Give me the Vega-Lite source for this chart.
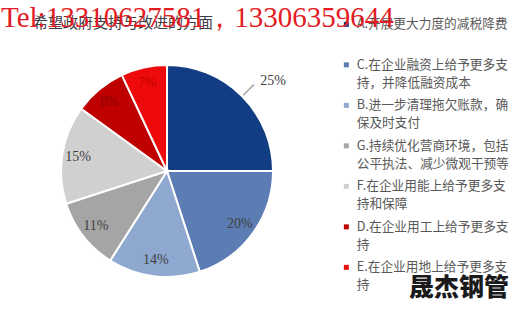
{
  "$schema": "https://vega.github.io/schema/vega-lite/v6.json",
  "width": 334,
  "height": 282,
  "autosize": {"type": "none"},
  "padding": {"left": 0, "top": 30, "right": 186, "bottom": 0},
  "background": "white",
  "title": {
    "text": "希望政府支持与改进的方面",
    "subtitle": "Tel:13310627581，13306359644",
    "anchor": "start",
    "frame": "group",
    "font": "Noto Sans CJK SC",
    "fontSize": 15,
    "fontWeight": "normal",
    "color": "#3c3c46",
    "subtitleFont": "Liberation Serif",
    "subtitleFontSize": 29,
    "subtitleColor": "#e31b23",
    "subtitlePadding": -27,
    "offset": 0,
    "dy": 27
  },
  "data": {
    "values": [
      {"item": "A.开展更大力度的减税降费", "share": 0.25, "rank": 1},
      {"item": "C.在企业融资上给予更多支持，并降低融资成本", "share": 0.20, "rank": 2},
      {"item": "B.进一步清理拖欠账款，确保及时支付", "share": 0.14, "rank": 3},
      {"item": "G.持续优化营商环境，包括公平执法、减少微观干预等", "share": 0.11, "rank": 4},
      {"item": "F.在企业用能上给予更多支持和保障", "share": 0.15, "rank": 5},
      {"item": "D.在企业用工上给予更多支持", "share": 0.08, "rank": 6},
      {"item": "E.在企业用地上给予更多支持", "share": 0.07, "rank": 7}
    ]
  },
  "encoding": {
    "theta": {"field": "share", "type": "quantitative", "stack": true},
    "order": {"field": "rank", "type": "quantitative"}
  },
  "layer": [
    {
      "mark": {"type": "arc", "outerRadius": 106, "stroke": "white", "strokeWidth": 2},
      "encoding": {
        "color": {
          "field": "item",
          "type": "nominal",
          "scale": {
            "domain": [
              "A.开展更大力度的减税降费",
              "C.在企业融资上给予更多支持，并降低融资成本",
              "B.进一步清理拖欠账款，确保及时支付",
              "G.持续优化营商环境，包括公平执法、减少微观干预等",
              "F.在企业用能上给予更多支持和保障",
              "D.在企业用工上给予更多支持",
              "E.在企业用地上给予更多支持"
            ],
            "range": ["#133d82", "#5b7db3", "#8ea8d0", "#a5a5a5", "#d0d0d0", "#bf0000", "#ee0a0a"]
          },
          "legend": {
            "orient": "none",
            "legendX": 340,
            "legendY": -12,
            "title": "晟杰钢管",
            "titleOrient": "bottom",
            "titleAnchor": "end",
            "titleFont": "Noto Sans CJK SC",
            "titleFontSize": 25,
            "titleFontWeight": 900,
            "titleColor": "#1a1a1a",
            "titlePadding": -16,
            "labelFont": "Noto Sans CJK SC",
            "labelFontSize": 12.7,
            "labelColor": "#595959",
            "labelLimit": 0,
            "labelOffset": 4,
            "labelExpr": "[substring(datum.label, 0, 13), length(datum.label) > 13 ? substring(datum.label, 13) : '\u3000']",
            "symbolType": "square",
            "symbolSize": 25,
            "symbolStrokeWidth": 0,
            "rowPadding": 8.5
          }
        }
      }
    },
    {
      "mark": {
        "type": "text",
        "font": "DejaVu Sans",
        "fontSize": 17,
        "align": "center",
        "baseline": "middle",
        "angle": -45,
        "radius": 115,
        "fill": "#9a9a9a"
      },
      "encoding": {
        "detail": {"field": "item", "type": "nominal"},
        "text": {"condition": {"test": "datum.rank == 1", "value": "—"}, "value": ""}
      }
    },
    {
      "mark": {
        "type": "text",
        "font": "Liberation Serif",
        "fontSize": 14,
        "align": "center",
        "baseline": "middle",
        "radius": {"expr": "datum.rank == 1 ? 136 : 90"},
        "dx": {"expr": "datum.rank == 1 ? 10 : 0"},
        "dy": {"expr": "datum.rank == 1 ? 6 : 0"},
        "fill": {"expr": "datum.rank == 6 ? '#8a0000' : datum.rank == 7 ? '#c00000' : '#404040'"}
      },
      "encoding": {
        "text": {"field": "share", "type": "quantitative", "format": ".0%"}
      }
    }
  ],
  "config": {
    "view": {"stroke": null},
    "style": {
      "guide-label": {"lineHeight": 18},
      "group-title": {"dx": 33},
      "group-subtitle": {"dx": 1}
    }
  }
}
